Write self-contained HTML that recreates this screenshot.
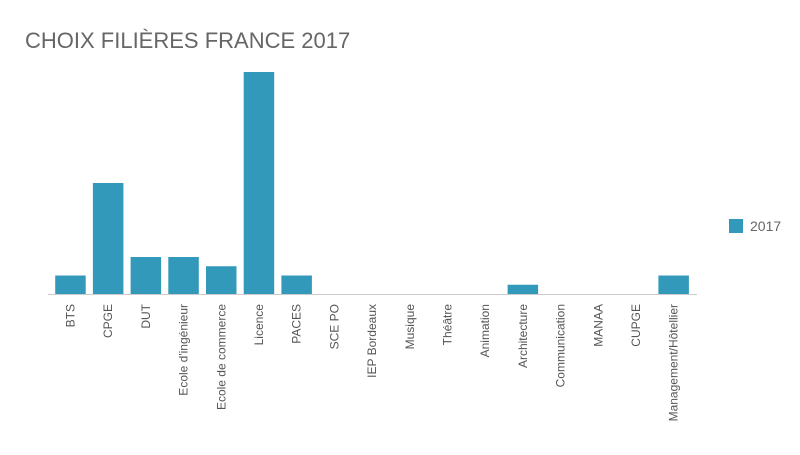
<!DOCTYPE html>
<html><head><meta charset="utf-8"><style>
body{margin:0;background:#fff;font-family:"Liberation Sans",sans-serif}
</style></head><body>
<svg width="800" height="450" xmlns="http://www.w3.org/2000/svg">
<text x="25" y="48" font-size="22" fill="#666" font-family="Liberation Sans, sans-serif">CHOIX FILIÈRES FRANCE 2017</text>
<g id="bars"></g>
<g id="labels"></g>
<line x1="48" y1="294.5" x2="697" y2="294.5" stroke="#ccc" stroke-width="1"/>
<g>
<rect x="729" y="219" width="14" height="14" fill="#3399bb"/>
<text x="750" y="231" font-size="14" fill="#666">2017</text>
</g>
</svg>
<script>
const categories=["BTS","CPGE","DUT","Ecole d'ingénieur","Ecole de commerce","Licence","PACES","SCE PO","IEP Bordeaux","Musique","Théâtre","Animation","Architecture","Communication","MANAA","CUPGE","Management/Hôtellier"];
const values2017=[2,12,4,4,3,24,2,0,0,0,0,0,1,0,0,0,2];
const yMax=24;
const ns="http://www.w3.org/2000/svg";
const x0=51.6,step=37.7,barW=30.5,base=294,plotH=222;
function xCenter(i){return x0+(i+0.5)*step;}
function yScale(v){return base-v/yMax*plotH;}
const bars=document.getElementById('bars'),labels=document.getElementById('labels');
categories.forEach((c,i)=>{
  const v=values2017[i];
  if(v>0){
    const r=document.createElementNS(ns,'rect');
    
    
    r.setAttribute('x',xCenter(i)-barW/2);
    r.setAttribute('y',yScale(v));
    r.setAttribute('width',barW);
    r.setAttribute('height',base-yScale(v));
    r.setAttribute('fill','#3399bb');
    bars.appendChild(r);
  }
  const t=document.createElementNS(ns,'text');
  
  
  const cx=xCenter(i)+4,cy=304;
  t.setAttribute('transform','translate('+cx+','+cy+') rotate(-90)');
  t.setAttribute('text-anchor','end');
  t.setAttribute('font-size','12');
  t.setAttribute('fill','#555');
  t.textContent=c;
  labels.appendChild(t);
});
</script>
</body></html>
